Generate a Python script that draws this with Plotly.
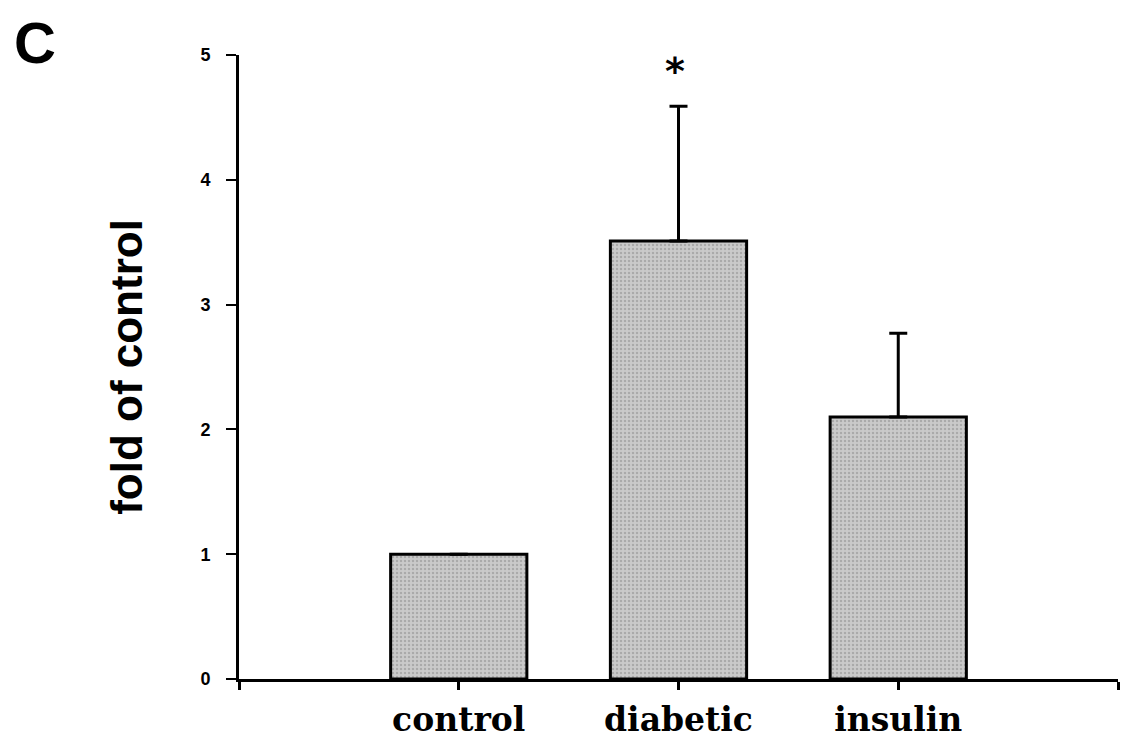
import plotly.graph_objects as go

categories = ["control", "diabetic", "insulin"]
values = [1.0, 3.51, 2.10]
errors_up = [0.0, 1.08, 0.67]
significant = [False, True, False]
y_ticks = [0, 1, 2, 3, 4, 5]

positions = [i + 1 for i in range(len(categories))]
tickvals = [0] + positions + [len(categories) + 1]
ticktext = [""] + categories + [""]

fig = go.Figure()
fig.add_trace(go.Bar(
    x=positions, y=values, width=0.62,
    marker=dict(color="#bdbdbd", line=dict(color="black", width=3),
                pattern=dict(shape=".", fgcolor="#8a8a8a", bgcolor="#cacaca", size=4, solidity=0.3)),
    error_y=dict(type="data", array=errors_up, arrayminus=[0] * len(values), symmetric=False,
                 color="black", thickness=3, width=9),
    showlegend=False,
))

for p, v, e, s in zip(positions, values, errors_up, significant):
    if s:
        fig.add_annotation(x=p, y=v + e + 0.3, text="*", showarrow=False,
                           font=dict(family="DejaVu Sans", size=38, color="black", weight="bold"),
                           xanchor="center", yanchor="middle", xshift=-4, yshift=-2)

fig.add_annotation(xref="paper", yref="paper", x=-0.258, y=1.076, text="C", showarrow=False,
                   font=dict(family="Liberation Sans", size=58, color="black", weight="bold"),
                   xanchor="left", yanchor="top")

fig.update_layout(
    width=1119, height=732,
    margin=dict(l=231, r=9, t=47, b=61),
    paper_bgcolor="white", plot_bgcolor="white",
    xaxis=dict(range=[0, len(categories) + 1], tickvals=tickvals, ticktext=ticktext,
               automargin=False,
               showline=True, linecolor="black", linewidth=3, ticks="outside", ticklen=8,
               tickwidth=3, tickcolor="black", showgrid=False, zeroline=False,
               tickfont=dict(family="DejaVu Serif", size=33, color="black", weight="bold"),
               ticklabelstandoff=1),
    yaxis=dict(range=[0, 5], tickvals=y_ticks, showline=True, linecolor="black", linewidth=3,
               automargin=False,
               ticks="outside", ticklen=10, tickwidth=2, tickcolor="black", showgrid=False,
               zeroline=False,
               tickfont=dict(family="Liberation Sans", size=18, color="black", weight="bold"),
               ticklabelstandoff=12,
               title=dict(text="fold of control", standoff=44,
                          font=dict(family="Liberation Sans", size=44, color="black", weight="bold"))),
)

fig.write_html("out.html")
